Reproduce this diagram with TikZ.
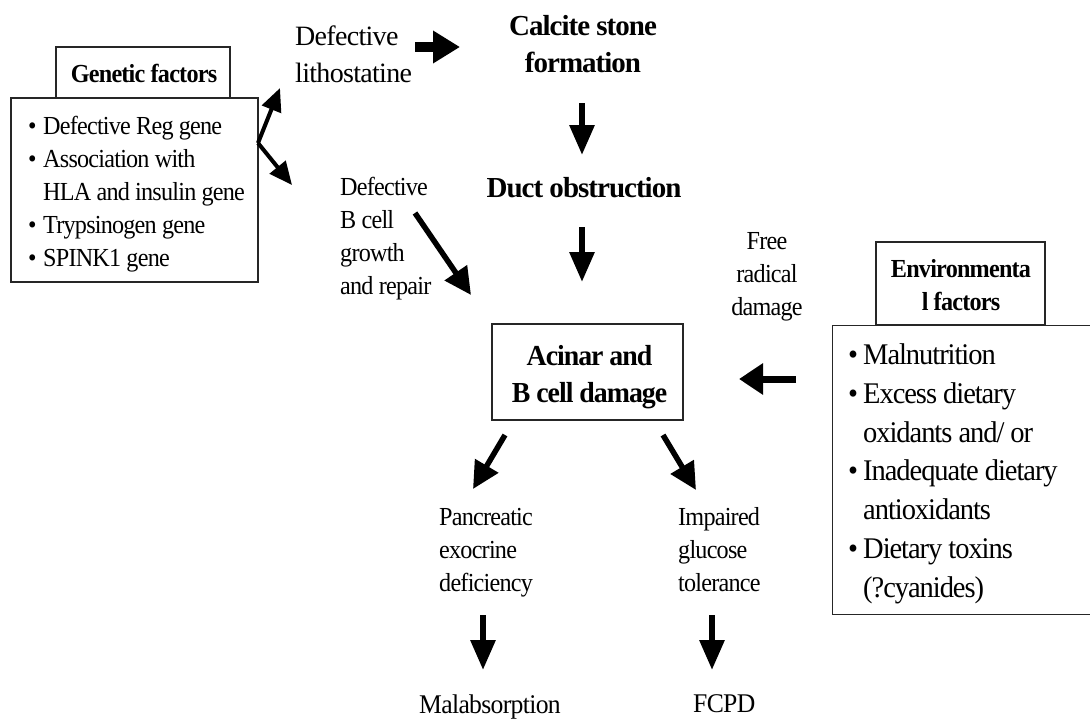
\documentclass[tikz,border=0pt]{standalone}
\usepackage{fontspec}
\setmainfont{Liberation Serif}
\newfontfamily\fsm[FakeStretch=0.93,LetterSpace=-3]{Liberation Serif}
\newfontfamily\fmd[LetterSpace=-2.5]{Liberation Serif}
\newfontfamily\fbg[LetterSpace=-3.4]{Liberation Serif}
\newfontfamily\fac[FakeStretch=0.96,LetterSpace=-3.5]{Liberation Serif}
\newfontfamily\fen[FakeStretch=0.95,LetterSpace=-3.5]{Liberation Serif}
\newfontfamily\fbt[FakeStretch=0.95,LetterSpace=-2.5]{Liberation Serif}
\usetikzlibrary{arrows.meta}
\newcommand\gbul{\makebox[15pt][l]{\textbullet}}
\newcommand\gind{\hspace*{15pt}}
\begin{document}
\begin{tikzpicture}[x=1pt,y=-1pt,
  sm/.style={font=\fsm\fontsize{26}{33}\selectfont, inner sep=0pt},
  md/.style={font=\fmd\fontsize{28}{37}\selectfont, inner sep=0pt},
  bg/.style={font=\fbg\bfseries\fontsize{29}{37}\selectfont, inner sep=0pt},
  ac/.style={font=\fac\bfseries\fontsize{29}{37}\selectfont, inner sep=0pt},
  en/.style={font=\fen\fontsize{30}{38.7}\selectfont, inner sep=0pt},
  bt/.style={font=\fbt\fontsize{27}{33}\selectfont, inner sep=0pt},
  box/.style={draw=black!85, line width=1.3pt, inner sep=0pt},
  garrow/.style={line width=4pt, -{Triangle[length=23pt,width=20pt]}},
  darrow/.style={line width=5.5pt, -{Triangle[length=27pt,width=26pt]}},
  varrow/.style={line width=6pt, -{Triangle[length=30pt,width=24pt]}},
  harrow/.style={line width=10pt, -{Triangle[length=27pt,width=31pt]}},
  earrow/.style={line width=7pt, -{Triangle[length=24pt,width=30pt]}}
]
\useasboundingbox (0,0) rectangle (1090,720);
\fill[white] (0,0) rectangle (1090,720);

% Genetic factors
\node[box, minimum width=174pt, minimum height=51pt] (gtbox) at (143,72.5) {};
\node[sm, anchor=base] (gtitle) at (144,82) {\bfseries Genetic factors};
\node[box, minimum width=247pt, minimum height=184pt] (gbox) at (134.5,190) {};
\node[sm, anchor=base west, align=left] (glist) at (28,266)
  {\gbul Defective Reg gene\\ \gbul Association with\\ \gind HLA and insulin gene\\ \gbul Trypsinogen gene\\ \gbul SPINK1 gene};

\coordinate (gorig) at (258,143);
\coordinate (gup) at (280,88);
\coordinate (gdown) at (292,185);
\draw[garrow] (gorig) -- (gup);
\draw[garrow] (gorig) -- (gdown);

% Defective lithostatine
\node[md, anchor=base west, align=left] (lith) at (295,82) {Defective\\lithostatine};
\coordinate (la) at (415,47);
\coordinate (lb) at (460,47);
\draw[harrow] (la) -- (lb);

% Calcite stone formation
\node[bg, anchor=base, align=center] (calc) at (583,72) {Calcite stone\\formation};
\coordinate (c1a) at (582,103);
\coordinate (c1b) at (582,155);
\draw[varrow] (c1a) -- (c1b);
\node[bg, anchor=base] (duct) at (584,197) {Duct obstruction};
\coordinate (c2a) at (582,227);
\coordinate (c2b) at (582,282);
\draw[varrow] (c2a) -- (c2b);

% Defective B cell
\node[sm, anchor=base west, align=left] (bcell) at (340,294) {Defective\\B cell\\growth\\and repair};
\coordinate (ba) at (415,213);
\coordinate (bb) at (471,295);
\draw[darrow] (ba) -- (bb);

% Free radical damage
\node[sm, anchor=base, align=center] (free) at (767,315) {Free\\radical\\damage};

% Acinar
\node[box, minimum width=191pt, minimum height=96pt] (acbox) at (587.5,372) {};
\node[ac, anchor=base, align=center] (actext) at (589.5,402) {Acinar and\\B cell damage};

% Environmental
\node[box, minimum width=169pt, minimum height=83pt] (etbox) at (960.5,283.5) {};
\node[sm, anchor=base, align=center] (ettext) at (961,310) {\bfseries Environmenta\\\bfseries l factors};
\node[box, minimum width=270pt, minimum height=289pt, anchor=north west] (ebox) at (832,325) {};
\node[en, anchor=base west, align=left] (elist) at (848,597)
  {\gbul Malnutrition\\ \gbul Excess dietary\\ \gind oxidants and/ or\\ \gbul Inadequate dietary\\ \gind antioxidants\\ \gbul Dietary toxins\\ \gind (?cyanides)};
\coordinate (ea) at (796,379);
\coordinate (eb) at (739,379);
\draw[earrow] (ea) -- (eb);

% Outcomes
\coordinate (p1a) at (505,435);
\coordinate (p1b) at (473,489);
\draw[darrow] (p1a) -- (p1b);
\coordinate (p2a) at (663,435);
\coordinate (p2b) at (696,490);
\draw[darrow] (p2a) -- (p2b);

\node[sm, anchor=base west, align=left] (panc) at (439,591) {Pancreatic\\exocrine\\deficiency};
\node[sm, anchor=base west, align=left] (imp) at (678,591) {Impaired\\glucose\\tolerance};

\coordinate (m1a) at (483,615);
\coordinate (m1b) at (483,670);
\draw[varrow] (m1a) -- (m1b);
\coordinate (m2a) at (712,615);
\coordinate (m2b) at (712,670);
\draw[varrow] (m2a) -- (m2b);

\node[bt, anchor=base west] (malab) at (419,713) {Malabsorption};
\node[bt, anchor=base west] (fcpd) at (693,712) {FCPD};
\end{tikzpicture}
\end{document}
